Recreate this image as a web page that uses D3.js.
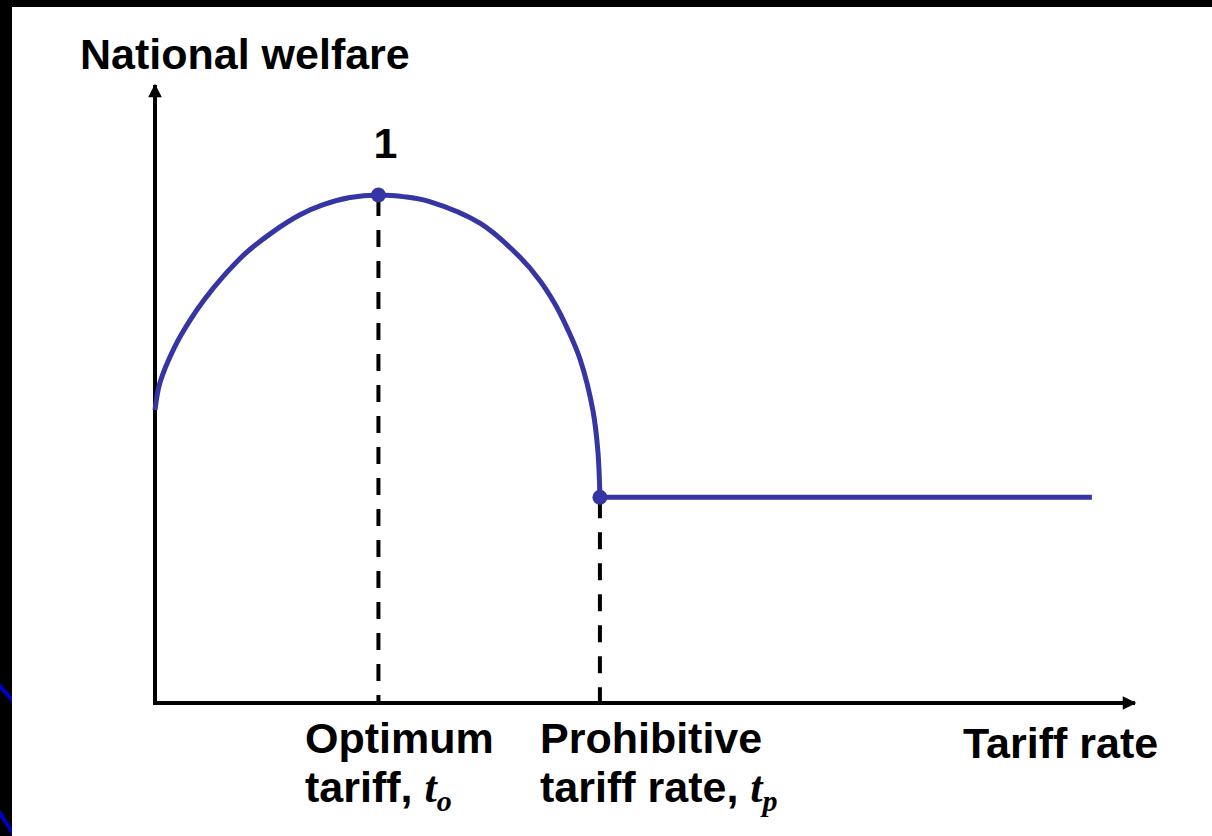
<!DOCTYPE html>
<html>
<head>
<meta charset="utf-8">
<script src="https://cdn.jsdelivr.net/npm/d3@7"></script>
<style>
  html, body { margin: 0; padding: 0; background: #000; }
  svg { display: block; }
</style>
</head>
<body>
<script>
// datos (unidades arbitrarias 0-100)
var curveX = [0, 0.5, 2.0, 3.6, 5.1, 6.9, 9.2, 12.0, 14.8, 17.1, 19.9, 22.8,
              25.5, 28.1, 33.2, 37.2, 39.3, 40.8, 42.1, 43.4, 44.7, 45.2, 45.4];
var curveY = [47.4, 51.8, 57.6, 62.0, 65.4, 68.9, 72.7, 76.2, 79.0, 80.6, 81.8, 82.2,
              81.9, 81.1, 77.6, 72.2, 68.3, 64.6, 60.5, 55.5, 47.2, 40.6, 33.3];
var flatX = [45.4, 95.6];
var flatY = [33.3, 33.3];
var optimo = { x: 22.8, y: 82.2, label: "1" };
var prohibitivo = { x: 45.4, y: 33.3 };
var yLabel = "National welfare";
var xLabel = "Tariff rate";

var width = 1212, height = 836;
var azul = "#3535a3";

var svg = d3.select("body").append("svg")
  .attr("width", width)
  .attr("height", height)
  .attr("font-family", "'Liberation Sans', Arial, sans-serif")
  .attr("font-weight", "bold")
  .attr("font-size", 43);

// fondo de la diapositiva
svg.append("rect").attr("width", width).attr("height", height).attr("fill", "#000");
svg.append("line").attr("x1", -2).attr("y1", 684).attr("x2", 14).attr("y2", 702).attr("stroke", "#0000c8").attr("stroke-width", 4);
svg.append("line").attr("x1", -2).attr("y1", 810).attr("x2", 14).attr("y2", 835).attr("stroke", "#0000c8").attr("stroke-width", 4);
svg.append("rect").attr("x", 12).attr("y", 7).attr("width", width - 12).attr("height", height - 7).attr("fill", "#fff");

var x = d3.scaleLinear().domain([0, 100]).range([155, 1135]);
var y = d3.scaleLinear().domain([0, 100]).range([703, 85]);

// ejes con flechas
svg.append("defs").append("marker")
  .attr("id", "flecha")
  .attr("viewBox", "0 0 10 10")
  .attr("refX", 9).attr("refY", 5)
  .attr("markerWidth", 4).attr("markerHeight", 3.4)
  .attr("markerUnits", "strokeWidth")
  .attr("orient", "auto")
  .append("path").attr("d", "M0,0L10,5L0,10z").attr("fill", "#000");

svg.append("line")
  .attr("x1", x(0)).attr("y1", y(0)).attr("x2", x(0)).attr("y2", y(100))
  .attr("stroke", "#000").attr("stroke-width", 4)
  .attr("marker-end", "url(#flecha)");
svg.append("line")
  .attr("x1", x(0) - 2).attr("y1", y(0)).attr("x2", x(100)).attr("y2", y(0))
  .attr("stroke", "#000").attr("stroke-width", 4)
  .attr("marker-end", "url(#flecha)");

// lineas punteadas
[optimo, prohibitivo].forEach(function(p) {
  svg.append("line")
    .attr("x1", x(p.x)).attr("y1", y(p.y)).attr("x2", x(p.x)).attr("y2", y(0))
    .attr("stroke", "#000").attr("stroke-width", 4)
    .attr("stroke-dasharray", "17,14")
    .attr("stroke-dashoffset", -4);
});

// curva de bienestar
var linea = d3.line()
  .x(function(d) { return x(d[0]); })
  .y(function(d) { return y(d[1]); })
  .curve(d3.curveCatmullRom.alpha(0.5));

svg.append("path")
  .datum(d3.zip(curveX, curveY))
  .attr("d", linea)
  .attr("fill", "none").attr("stroke", azul).attr("stroke-width", 5);

svg.append("path")
  .datum(d3.zip(flatX, flatY))
  .attr("d", d3.line().x(function(d) { return x(d[0]); }).y(function(d) { return y(d[1]); }))
  .attr("fill", "none").attr("stroke", azul).attr("stroke-width", 5);

svg.selectAll("circle.punto")
  .data([optimo, prohibitivo])
  .join("circle")
  .attr("class", "punto")
  .attr("cx", function(d) { return x(d.x); })
  .attr("cy", function(d) { return y(d.y); })
  .attr("r", 7.5)
  .attr("fill", azul);

// textos
svg.append("text").attr("x", 80).attr("y", 69).text(yLabel);
svg.append("text").attr("x", x(optimo.x) + 7).attr("y", 158).attr("text-anchor", "middle").text(optimo.label);
svg.append("text").attr("x", 963).attr("y", 758).text(xLabel);

function etiqueta(x0, linea1, linea2, sub) {
  svg.append("text").attr("x", x0).attr("y", 753).text(linea1);
  var t = svg.append("text").attr("x", x0).attr("y", 802);
  t.append("tspan").text(linea2 + " ");
  t.append("tspan")
    .attr("font-family", "'Liberation Serif', 'Times New Roman', serif")
    .attr("font-style", "italic")
    .attr("font-size", 44)
    .text("t");
  t.append("tspan")
    .attr("font-family", "'Liberation Serif', 'Times New Roman', serif")
    .attr("font-style", "italic")
    .attr("font-size", 30).attr("dy", 9)
    .text(sub);
}
etiqueta(305, "Optimum", "tariff,", "o");
etiqueta(540, "Prohibitive", "tariff rate,", "p");
</script>
</body>
</html>
